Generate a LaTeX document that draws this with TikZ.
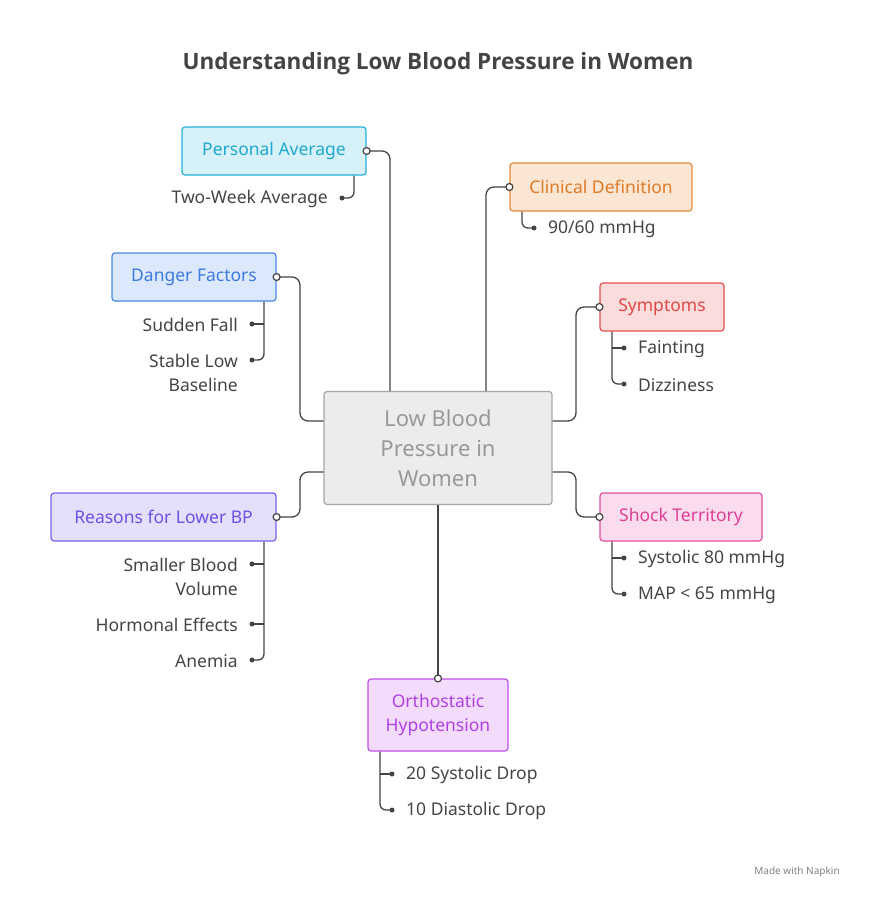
\documentclass[tikz,border=0pt]{standalone}
\usepackage{fontspec}
\setmainfont{Noto Sans}
\newfontfamily\titlefont{Open Sans}
\usetikzlibrary{positioning}
\definecolor{linec}{HTML}{444444}
\tikzset{
  box/.style={draw, rounded corners=3pt, line width=1.2pt, minimum height=48pt, inner xsep=14pt, font=\fontsize{17.5}{21}\selectfont, align=center},
  leaf/.style={font=\fontsize{17.5}{24}\selectfont, text=linec, inner sep=0pt},
  link/.style={draw=linec, line width=1.3pt, rounded corners=8pt},
  opendot/.style={circle, draw=linec, fill=white, line width=1.2pt, inner sep=0pt, minimum size=7pt},
  dot/.style={circle, fill=linec, inner sep=0pt, minimum size=5pt}
}
\begin{document}
\begin{tikzpicture}[x=1pt,y=-1pt]
  \useasboundingbox (0,0) rectangle (876,900);

  % Title
  \node[font=\titlefont\bfseries\fontsize{22.5}{27}\selectfont, text=linec] (title) at (438,64) {Understanding Low Blood Pressure in Women};

  % Central topic
  \node[box, draw=gray!70, fill=gray!15, text=gray!80, minimum width=228pt, minimum height=113pt, font=\fontsize{22}{30}\selectfont] (c) at (438,448) {Low Blood\\Pressure in\\Women};

  % Branch boxes
  \node[box, draw={rgb,255:red,38;green,176;blue,216}, fill={rgb,255:red,214;green,241;blue,248}, text={rgb,255:red,31;green,169;blue,208}, minimum width=184pt] (pa) at (274,151) {Personal Average};
  \node[box, draw={rgb,255:red,229;green,138;blue,58}, fill={rgb,255:red,251;green,229;blue,211}, text={rgb,255:red,224;green,123;blue,40}, minimum width=182pt] (cd) at (601,187) {Clinical Definition};
  \node[box, draw={rgb,255:red,74;green,134;blue,232}, fill={rgb,255:red,220;green,232;blue,251}, text={rgb,255:red,61;green,122;blue,224}, minimum width=164pt] (df) at (194,277) {Danger Factors};
  \node[box, draw={rgb,255:red,228;green,80;blue,80}, fill={rgb,255:red,251;green,220;blue,220}, text={rgb,255:red,224;green,72;blue,72}, minimum width=124pt] (sy) at (662,307) {Symptoms};
  \node[box, draw={rgb,255:red,123;green,97;blue,228}, fill={rgb,255:red,228;green,223;blue,251}, text={rgb,255:red,112;green,80;blue,224}, minimum width=225pt] (rb) at (163.5,517) {Reasons for Lower BP};
  \node[box, draw={rgb,255:red,224;green,80;blue,158}, fill={rgb,255:red,251;green,220;blue,239}, text={rgb,255:red,220;green,64;blue,150}, minimum width=162pt] (st) at (681,517) {Shock Territory};
  \node[box, draw={rgb,255:red,192;green,80;blue,232}, fill={rgb,255:red,243;green,220;blue,251}, text={rgb,255:red,176;green,64;blue,224}, minimum width=140pt, minimum height=72pt, font=\fontsize{17.5}{24}\selectfont] (oh) at (438,715) {Orthostatic\\Hypotension};

  % Connectors from the centre
  \draw[link] (c.north -| 390,0) -- (390,151) -- (pa.east);
  \draw[link] (c.north -| 486,0) -- (486,187) -- (cd.west);
  \draw[link] (c.west |- 0,421) -- (300,421) -- (300,277) -- (df.east);
  \draw[link] (c.east |- 0,421) -- (576,421) -- (576,307) -- (sy.west);
  \draw[link] (c.west |- 0,472) -- (300,472) -- (300,517) -- (rb.east);
  \draw[link] (c.east |- 0,472) -- (576,472) -- (576,517) -- (st.west);
  \draw[link] (c.south) -- (oh.north);
  \foreach \p in {pa.east, cd.west, df.east, sy.west, rb.east, st.west, oh.north}
    \node[opendot] at (\p) {};

  % Leaves
  \node[leaf, anchor=east] (pa1) at (328,199) {Two-Week Average};
  \node[leaf, anchor=west] (cd1) at (548,229) {90/60 mmHg};
  \node[leaf, anchor=east] (df1) at (238,325) {Sudden Fall};
  \node[leaf, anchor=east, align=right] (df2) at (238,373) {Stable Low\\Baseline};
  \node[leaf, anchor=west] (sy1) at (638,349) {Fainting};
  \node[leaf, anchor=west] (sy2) at (638,385) {Dizziness};
  \node[leaf, anchor=east, align=right] (rb1) at (238,577) {Smaller Blood\\Volume};
  \node[leaf, anchor=east] (rb2) at (238,625) {Hormonal Effects};
  \node[leaf, anchor=east] (rb3) at (238,661) {Anemia};
  \node[leaf, anchor=west] (st1) at (638,559) {Systolic 80 mmHg};
  \node[leaf, anchor=west] (st2) at (638,595) {MAP < 65 mmHg};
  \node[leaf, anchor=west] (oh1) at (406,775) {20 Systolic Drop};
  \node[leaf, anchor=west] (oh2) at (406,811) {10 Diastolic Drop};

  % Leaf connectors
  \draw[link, rounded corners=6pt] (pa.south -| 354,0) -- (354,198) -- (342,198) node[dot] {};
  \draw[link, rounded corners=6pt] (cd.south -| 522,0) -- (522,228) -- (534,228) node[dot] {};
  \draw[link, rounded corners=6pt] (df.south -| 264,0) -- (264,360) -- (252,360) node[dot] {};
  \draw[link] (264,324) -- (252,324) node[dot] {};
  \draw[link, rounded corners=6pt] (sy.south -| 612,0) -- (612,384) -- (624,384) node[dot] {};
  \draw[link] (612,348) -- (624,348) node[dot] {};
  \draw[link, rounded corners=6pt] (rb.south -| 264,0) -- (264,660) -- (252,660) node[dot] {};
  \draw[link] (264,564) -- (252,564) node[dot] {};
  \draw[link] (264,624) -- (252,624) node[dot] {};
  \draw[link, rounded corners=6pt] (st.south -| 612,0) -- (612,594) -- (624,594) node[dot] {};
  \draw[link] (612,558) -- (624,558) node[dot] {};
  \draw[link, rounded corners=6pt] (oh.south -| 380,0) -- (380,810) -- (392,810) node[dot] {};
  \draw[link] (380,774) -- (392,774) node[dot] {};

  % Footer
  \node[font=\fontsize{10}{12}\selectfont, text=gray] (foot) at (797,872) {Made with Napkin};
\end{tikzpicture}
\end{document}
